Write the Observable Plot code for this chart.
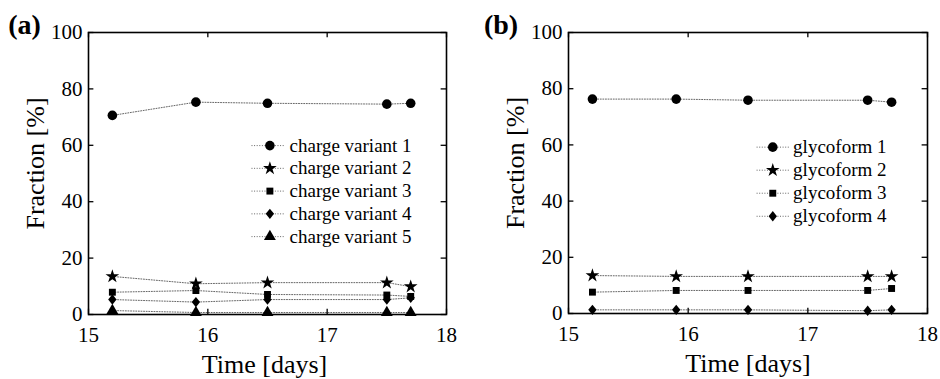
<!DOCTYPE html>
<html>
<head>
<meta charset="utf-8">
<script src="https://cdn.jsdelivr.net/npm/d3@7"></script>
<script src="https://cdn.jsdelivr.net/npm/@observablehq/plot@0.6"></script>
<style>
  html, body { margin: 0; padding: 0; background: white; }
  #wrap { display: flex; width: 940px; height: 379px; }
  #wrap svg, #wrap svg text { font-family: "Liberation Serif", "Times New Roman", serif !important; font-variant: normal !important; }
</style>
</head>
<body>
<div id="wrap"></div>
<script>
// ---- data ----
const days = [15.2, 15.9, 16.5, 17.5, 17.7];

const chargeNames = ["charge variant 1", "charge variant 2", "charge variant 3", "charge variant 4", "charge variant 5"];
const chargeV1 = [70.6, 75.3, 74.9, 74.6, 74.9];
const chargeV2 = [13.5, 10.9, 11.3, 11.3, 9.9];
const chargeV3 = [7.9, 8.5, 7.1, 6.9, 6.4];
const chargeV4 = [5.3, 4.4, 5.3, 5.3, 5.9];
const chargeV5 = [1.4, 0.7, 0.7, 0.7, 0.7];

const glycoNames = ["glycoform 1", "glycoform 2", "glycoform 3", "glycoform 4"];
const glyco1 = [76.3, 76.3, 75.9, 75.9, 75.2];
const glyco2 = [13.5, 13.2, 13.2, 13.2, 13.2];
const glyco3 = [7.6, 8.2, 8.2, 8.2, 8.9];
const glyco4 = [1.3, 1.3, 1.3, 1.0, 1.3];

const xTicks = [15, 16, 17, 18];
const yTicks = [0, 20, 40, 60, 80, 100];
const xLabel = "Time [days]";
const yLabel = "Fraction [%]";

const FONT = "'Liberation Serif', 'Times New Roman', serif";

// ---- symbols ----
const diamondSym = {
  draw(ctx, size) {
    const s = Math.sqrt(size);
    const h = s * 0.7, w = s * 0.56;
    ctx.moveTo(0, -h); ctx.lineTo(w, 0); ctx.lineTo(0, h); ctx.lineTo(-w, 0); ctx.closePath();
  }
};
const symbols = [
  {symbol: "circle", r: 4.8},
  {symbol: "star", r: 4.3},
  {symbol: "square", r: 3.9},
  {symbol: diamondSym, r: 4.2},
  {symbol: "triangle", r: 4.4}
];

function panel({names, values, tag, margins, legend}) {
  const data = [];
  names.forEach((n, i) => values[i].forEach((v, j) => data.push({series: n, idx: i, x: days[j], y: v})));
  const leg = names.map((n, i) => ({name: n, idx: i, y: legend.y0 - i * legend.step}));
  const marks = [
    Plot.line(data, {x: "x", y: "y", z: "series", stroke: "#555", strokeWidth: 0.9, strokeDasharray: "1,1.6"}),
    ...names.map((n, i) => Plot.dot(data.filter(d => d.idx === i), {x: "x", y: "y", fill: "black", stroke: "none", symbol: () => symbols[i].symbol, r: symbols[i].r})),
    // legend
    Plot.ruleY(leg, {y: "y", x1: legend.x1, x2: legend.x2, stroke: "#555", strokeWidth: 0.9, strokeDasharray: "1,1.6"}),
    ...names.map((n, i) => Plot.dot([leg[i]], {x: legend.xm, y: "y", fill: "black", stroke: "none", symbol: () => symbols[i].symbol, r: symbols[i].r})),
    Plot.text(leg, {x: legend.xt, y: "y", text: "name", textAnchor: "start", lineAnchor: "middle", fontSize: 19, fontFamily: FONT, fill: "black"}),
    // inward ticks
    Plot.ruleX(xTicks, {x: d => d, y1: 0, y2: 1.9, stroke: "black", strokeWidth: 1.3}),
    Plot.ruleX(xTicks, {x: d => d, y1: 100, y2: 98.1, stroke: "black", strokeWidth: 1.3}),
    Plot.ruleY(yTicks, {y: d => d, x1: 15, x2: 15.045, stroke: "black", strokeWidth: 1.3}),
    Plot.ruleY(yTicks, {y: d => d, x1: 18, x2: 17.955, stroke: "black", strokeWidth: 1.3}),
    Plot.frame({stroke: "black", strokeWidth: 1.6}),
    // tick labels
    Plot.text(xTicks, {x: d => d, y: 0, text: d => String(d), dy: 13, textAnchor: "middle", lineAnchor: "top", fontSize: 21, fontFamily: FONT, fill: "black"}),
    Plot.text(yTicks, {x: 15, y: d => d, text: d => String(d), dx: -6, textAnchor: "end", lineAnchor: "middle", fontSize: 21, fontFamily: FONT, fill: "black"}),
    // axis labels
    Plot.text([xLabel], {text: d => d, frameAnchor: "bottom", dy: 50, dx: margins.xlDx, textAnchor: "middle", lineAnchor: "middle", fontSize: 26, fontFamily: FONT, fill: "black"}),
    Plot.text([yLabel], {text: d => d, frameAnchor: "left", rotate: -90, dx: margins.ylDx, dy: -10, textAnchor: "middle", lineAnchor: "middle", fontSize: 26, fontFamily: FONT, fill: "black"}),
    Plot.text([tag], {text: d => d, frameAnchor: "top-left", dx: margins.tagDx, dy: -7, lineAnchor: "middle", textAnchor: "middle", fontSize: 28, fontWeight: "bold", fontFamily: FONT, fill: "black"})
  ];
  return Plot.plot({
    width: 470,
    height: 379,
    marginLeft: margins.left,
    marginRight: margins.right,
    marginTop: 32,
    marginBottom: margins.bottom,
    x: {domain: [15, 18], axis: null},
    y: {domain: [0, 100], axis: null},
    style: {fontFamily: FONT, fontSize: "21px", color: "black", background: "white", overflow: "visible"},
    marks
  });
}

const a = panel({
  names: chargeNames,
  values: [chargeV1, chargeV2, chargeV3, chargeV4, chargeV5],
  tag: "(a)",
  margins: {left: 88, right: 24, bottom: 65, xlDx: -3, ylDx: -52.5, tagDx: -64},
  legend: {y0: 59.9, step: 8.07, x1: 16.37, x2: 16.65, xm: 16.52, xt: 16.685}
});
const b = panel({
  names: glycoNames,
  values: [glyco1, glyco2, glyco3, glyco4],
  tag: "(b)",
  margins: {left: 98, right: 13, bottom: 66, xlDx: 0, ylDx: -53, tagDx: -67.5},
  legend: {y0: 59.2, step: 8.2, x1: 16.576, x2: 16.85, xm: 16.707, xt: 16.877}
});
document.getElementById("wrap").append(a, b);
</script>
</body>
</html>
